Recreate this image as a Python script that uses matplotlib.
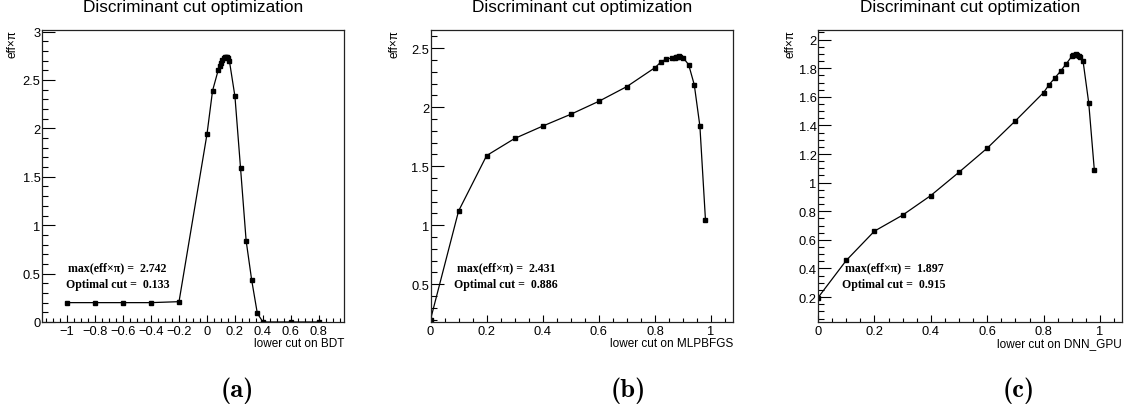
import os
import matplotlib
matplotlib.use("Agg")
import matplotlib.pyplot as plt
from matplotlib.ticker import MultipleLocator
from matplotlib.font_manager import FontProperties

plt.rcParams['font.family'] = ['Liberation Sans', 'DejaVu Sans']

# ---- data ----
bdt_x = [-1, -0.8, -0.6, -0.4, -0.2, 0, 0.04, 0.08, 0.09, 0.1, 0.11, 0.12, 0.13,
         0.133, 0.14, 0.15, 0.16, 0.2, 0.24, 0.28, 0.32, 0.36, 0.4, 0.6, 0.8]
bdt_y = [0.2, 0.2, 0.2, 0.2, 0.21, 1.94, 2.39, 2.60, 2.64, 2.68, 2.71, 2.73, 2.741,
         2.742, 2.74, 2.725, 2.70, 2.33, 1.59, 0.84, 0.43, 0.09, 0.0, 0.0, 0.0]

mlp_x = [0, 0.1, 0.2, 0.3, 0.4, 0.5, 0.6, 0.7, 0.8, 0.82, 0.84, 0.86, 0.87, 0.875,
         0.88, 0.886, 0.89, 0.9, 0.92, 0.94, 0.96, 0.98]
mlp_y = [0.2, 1.12, 1.59, 1.735, 1.84, 1.94, 2.05, 2.175, 2.335, 2.38, 2.41, 2.415,
         2.42, 2.425, 2.428, 2.431, 2.428, 2.42, 2.36, 2.19, 1.84, 1.04]

dnn_x = [0, 0.1, 0.2, 0.3, 0.4, 0.5, 0.6, 0.7, 0.8, 0.82, 0.84, 0.86, 0.88, 0.9,
         0.905, 0.91, 0.915, 0.92, 0.925, 0.93, 0.94, 0.96, 0.98]
dnn_y = [0.196, 0.456, 0.661, 0.773, 0.91, 1.073, 1.241, 1.432, 1.63, 1.686, 1.732,
         1.779, 1.83, 1.883, 1.89, 1.895, 1.897, 1.893, 1.885, 1.875, 1.848, 1.558, 1.085]

methods = ["BDT", "MLPBFGS", "DNN_GPU"]
max_vals = ["2.742", "2.431", "1.897"]
opt_cuts = ["0.133", "0.886", "0.915"]
panel_labels = ["(a)", "(b)", "(c)"]

W, H = 1132, 414
fig = plt.figure(figsize=(W / 100, H / 100), dpi=100)

cmb_path = os.path.join(matplotlib.get_data_path(), 'fonts', 'ttf', 'cmb10.ttf')
if os.path.exists(cmb_path):
    sub_font = FontProperties(fname=cmb_path, size=19)
else:
    sub_font = FontProperties(family='DejaVu Serif', weight='bold', size=17)

# layout (pixels)
axes_px = [(42, 302), (430.5, 302.5), (818, 304)]
ax_top, ax_bot = 31, 323
ylabel_x = [13, 395, 791]
sub_x = [237.5, 628.5, 1019]

xlims = [(-1.18, 0.98), (0, 1.078), (0, 1.078)]
ylims = [(0, 3.0162), (0.18, 2.654), (0.026, 2.067)]
xmaj = [0.2, 0.2, 0.2]
xmin_ = [0.05, 0.05, 0.05]
ymaj = [0.5, 0.5, 0.2]
ymin_ = [0.1, 0.1, 0.05]

data = [(bdt_x, bdt_y), (mlp_x, mlp_y), (dnn_x, dnn_y)]

fmt = matplotlib.ticker.FuncFormatter(
    lambda v, p: ('%g' % round(v, 6)).replace('-', '\u2212'))

for i in range(3):
    left, width = axes_px[i]
    ax = fig.add_axes([left / W, (H - ax_bot) / H, width / W, (ax_bot - ax_top) / H])
    x, y = data[i]
    ax.plot(x, y, color='black', lw=0.9, marker='s', ms=2.6, mec='black', mfc='black')
    ax.set_xlim(*xlims[i])
    ax.set_ylim(*ylims[i])
    ax.xaxis.set_major_locator(MultipleLocator(xmaj[i]))
    ax.xaxis.set_minor_locator(MultipleLocator(xmin_[i]))
    ax.yaxis.set_major_locator(MultipleLocator(ymaj[i]))
    ax.yaxis.set_minor_locator(MultipleLocator(ymin_[i]))
    ax.xaxis.set_major_formatter(fmt)
    ax.yaxis.set_major_formatter(fmt)
    ax.tick_params(axis='x', which='major', direction='in', length=5, width=0.8,
                   labelsize=9.3, pad=2.5, top=False)
    ax.tick_params(axis='x', which='minor', direction='in', length=2.7, width=0.8, top=False)
    ax.tick_params(axis='y', which='major', direction='in', length=9, width=0.8,
                   labelsize=9.3, pad=1, right=False)
    ax.tick_params(axis='y', which='minor', direction='in', length=4.5, width=0.8, right=False)
    for s in ax.spines.values():
        s.set_linewidth(0.9)
        s.set_color('#222222')

    # title
    cx = (left + width / 2) / W
    fig.text(cx, 1 - 12 / H, "Discriminant cut optimization", ha='center',
             va='baseline', fontsize=12.4)
    # x label
    fig.text((left + width) / W, 1 - 347 / H, "lower cut on " + methods[i],
             ha='right', va='baseline', fontsize=8.5)
    # y label
    fig.text(ylabel_x[i] / W, 1 - 30 / H, "eff×π", rotation=90, ha='center',
             va='top', fontsize=8.6)
    # annotations
    ax.text(0.25, 0.178, "max(eff×π) =  " + max_vals[i], transform=ax.transAxes,
            ha='center', va='baseline', fontsize=8.6, fontweight='bold',
            family=['Liberation Serif', 'DejaVu Serif'])
    ax.text(0.25, 0.12, "Optimal cut =  " + opt_cuts[i], transform=ax.transAxes,
            ha='center', va='baseline', fontsize=8.6, fontweight='bold',
            family=['Liberation Serif', 'DejaVu Serif'])
    # sub-figure label
    fig.text(sub_x[i] / W, 1 - 391 / H, panel_labels[i],
             ha='center', va='center', fontproperties=sub_font)

fig.savefig("out.png", dpi=100)
